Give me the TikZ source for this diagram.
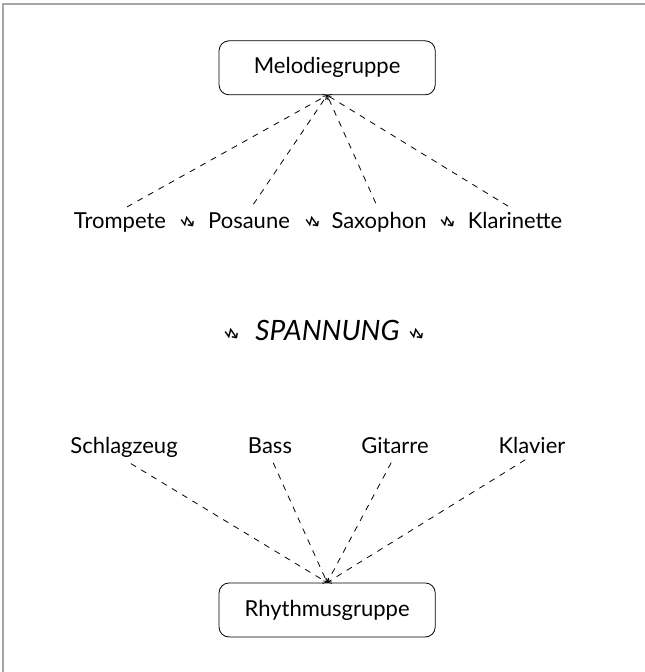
\documentclass[tikz,border=0pt]{standalone}
\usepackage{fontspec}
\setmainfont{Lato}
\newfontfamily\symbolfont{DejaVu Sans}
\newcommand{\blitz}{\raisebox{-2pt}{\rotatebox{45}{\symbolfont\small ↯}}}

\begin{document}
\begin{tikzpicture}[color=black, font=\fontsize{11}{13}\selectfont,
  gruppe/.style={draw,minimum width=3.8cm, minimum height=0.95cm, rounded corners=5pt},
  instr/.style={anchor=base, inner sep=1pt},
  pfeil/.style={dashed,->,shorten <=4pt}]

\useasboundingbox (0,0) rectangle (11.337,11.812);
\draw[gray!70,line width=1pt] (0.06,0) -- (0.06,11.75) -- (11.337,11.75);

\node (mel) at (5.75,10.62)[gruppe]{Melodiegruppe};
\node (rhy) at (5.75,1.09)[gruppe]{Rhythmusgruppe};

% Melodiegruppe
\node (tr) at (2.109,7.787)[instr]{Trompete};
\node (po) at (4.377,7.787)[instr]{Posaune};
\node (sa) at (6.662,7.787)[instr]{Saxophon};
\node (kl) at (9.053,7.787)[instr]{Klarinette};

\node (b1) at (3.305,7.787)[instr]{\blitz};
\node (b2) at (5.502,7.787)[instr]{\blitz};
\node (b3) at (7.875,7.787)[instr]{\blitz};

% Spannung
\node (sp) at (5.757,5.835)[instr,font=\fontsize{14}{16}\selectfont]{\itshape SPANNUNG};
\node (b4) at (4.078,5.835)[instr]{\blitz};
\node (b5) at (7.330,5.835)[instr]{\blitz};

% Rhythmusgruppe
\node (sz) at (2.180,3.849)[instr]{Schlagzeug};
\node (ba) at (4.746,3.849)[instr]{Bass};
\node (gi) at (6.943,3.849)[instr]{Gitarre};
\node (kv) at (9.351,3.849)[instr]{Klavier};

\foreach \x in {tr,po,sa,kl}
{
\draw[pfeil] (\x.north) -- (mel.south);
}

\foreach \x in {sz,ba,gi,kv}
{
\draw[pfeil] (\x.south) -- (rhy.north);
}

\end{tikzpicture}
\end{document}
